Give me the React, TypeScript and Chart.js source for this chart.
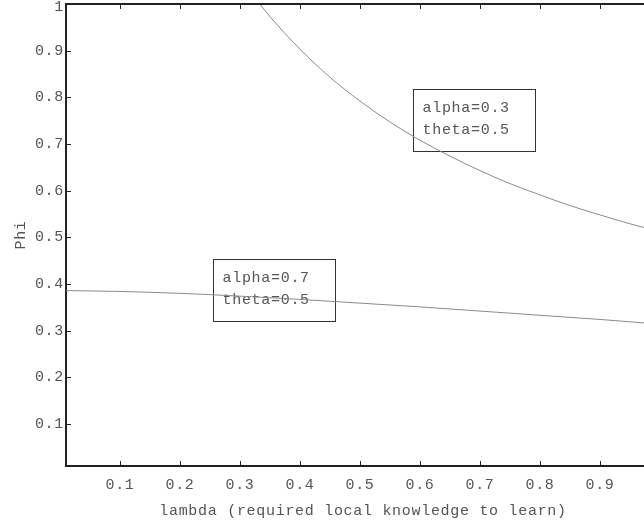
import React, { useEffect, useRef } from "react";
import { Chart, registerables } from "chart.js";

Chart.register(...registerables);

// Curve alpha=0.3, theta=0.5
const lambdaA = [0.33, 0.35, 0.4, 0.45, 0.5, 0.55, 0.6, 0.65, 0.7, 0.75, 0.8, 0.85, 0.9, 0.95, 1.0];
const phiA = [1.005, 0.973, 0.903, 0.843, 0.792, 0.747, 0.708, 0.674, 0.643, 0.615, 0.591, 0.568, 0.548, 0.529, 0.512];
// Curve alpha=0.7, theta=0.5
const lambdaB = [0.0, 0.1, 0.2, 0.3, 0.4, 0.5, 0.6, 0.7, 0.8, 0.9, 1.0];
const phiB = [0.386, 0.384, 0.38, 0.374, 0.367, 0.359, 0.351, 0.342, 0.333, 0.324, 0.314];

const xTicks = [0.1, 0.2, 0.3, 0.4, 0.5, 0.6, 0.7, 0.8, 0.9, 1];
const yTicks = [0.1, 0.2, 0.3, 0.4, 0.5, 0.6, 0.7, 0.8, 0.9, 1];

const xTitle = "lambda (required local knowledge to learn)";
const yTitle = "Phi";

// annotation boxes in data coordinates: [x0, x1, yTop, yBottom], lines
const boxA = [0.589, 0.792, 0.817, 0.686];
const boxALines = ["alpha=0.3", "theta=0.5"];
const boxB = [0.2545, 0.458, 0.453, 0.321];
const boxBLines = ["alpha=0.7", "theta=0.5"];

const FONT = "'Liberation Mono', 'Courier New', monospace";
const FSIZE = 15;
const TEXT = "#555";
const AXIS = "#222";
const LINE = "#8a8a8a";
const SPACING = "0.7px";

export default function App() {
  const ref = useRef<HTMLCanvasElement>(null);
  useEffect(() => {
    document.body.style.margin = "0";
    const canvas = ref.current!;
    const setSpacing = (chart: any) => {
      try { chart.ctx.letterSpacing = SPACING; } catch (e) {}
    };
    const plugin = {
      id: "gp",
      beforeLayout: setSpacing,
      beforeDraw: setSpacing,
      beforeDatasetsDraw(chart: any) {
        const { ctx, scales } = chart;
        const xs = scales.x, ys = scales.y;
        const drawBox = (b: number[], lines: string[]) => {
          const l = Math.round(xs.getPixelForValue(b[0])) + 0.5;
          const r = Math.round(xs.getPixelForValue(b[1])) + 0.5;
          const t = Math.round(ys.getPixelForValue(b[2])) + 0.5;
          const bt = Math.round(ys.getPixelForValue(b[3])) + 0.5;
          ctx.save();
          ctx.letterSpacing = SPACING;
          ctx.strokeStyle = "#333";
          ctx.lineWidth = 1;
          ctx.strokeRect(l, t, r - l, bt - t);
          ctx.fillStyle = TEXT;
          ctx.font = `${FSIZE}px ${FONT}`;
          ctx.textBaseline = "middle";
          ctx.textAlign = "left";
          lines.forEach((s, i) => ctx.fillText(s, l + 9, t + 19 + i * 22));
          ctx.restore();
        };
        drawBox(boxA, boxALines);
        drawBox(boxB, boxBLines);
      },
      afterDraw(chart: any) {
        const { ctx, chartArea, scales } = chart;
        const xs = scales.x, ys = scales.y;
        ctx.save();
        ctx.strokeStyle = AXIS;
        ctx.lineWidth = 2;
        ctx.beginPath();
        ctx.moveTo(chartArea.left - 1, chartArea.top);
        ctx.lineTo(chartArea.right + 1, chartArea.top);
        ctx.moveTo(chartArea.right, chartArea.top);
        ctx.lineTo(chartArea.right, chartArea.bottom);
        ctx.stroke();
        ctx.lineWidth = 1;
        ctx.beginPath();
        const tl = 5;
        xTicks.forEach((v) => {
          const px = Math.round(xs.getPixelForValue(v)) + 0.5;
          ctx.moveTo(px, chartArea.bottom);
          ctx.lineTo(px, chartArea.bottom - tl);
          ctx.moveTo(px, chartArea.top);
          ctx.lineTo(px, chartArea.top + tl);
        });
        yTicks.forEach((v) => {
          const py = Math.round(ys.getPixelForValue(v)) + 0.5;
          ctx.moveTo(chartArea.left, py);
          ctx.lineTo(chartArea.left + tl, py);
          ctx.moveTo(chartArea.right, py);
          ctx.lineTo(chartArea.right - tl, py);
        });
        ctx.stroke();
        // top tick label (drawn slightly lower so it stays inside the canvas)
        const top = yTicks[yTicks.length - 1];
        ctx.letterSpacing = SPACING;
        ctx.fillStyle = TEXT;
        ctx.font = `${FSIZE}px ${FONT}`;
        ctx.textAlign = "right";
        ctx.textBaseline = "middle";
        ctx.fillText(String(top), chartArea.left - 2, ys.getPixelForValue(top) + 3);
        ctx.restore();
      },
    };

    const font = { family: FONT, size: FSIZE };
    const topY = yTicks[yTicks.length - 1];
    const chart = new Chart(canvas, {
      type: "line",
      data: {
        datasets: [
          {
            data: lambdaA.map((x, i) => ({ x, y: phiA[i] })),
            borderColor: LINE,
            borderWidth: 1,
            pointRadius: 0,
            cubicInterpolationMode: "monotone",
          },
          {
            data: lambdaB.map((x, i) => ({ x, y: phiB[i] })),
            borderColor: LINE,
            borderWidth: 1,
            pointRadius: 0,
            cubicInterpolationMode: "monotone",
          },
        ],
      },
      options: {
        animation: false,
        responsive: false,
        devicePixelRatio: 1,
        layout: { padding: { top: 4, right: 40, left: 0, bottom: 0 } },
        plugins: { legend: { display: false }, tooltip: { enabled: false } },
        scales: {
          x: {
            type: "linear",
            min: 0.01,
            max: 1,
            afterBuildTicks: (s: any) => { s.ticks = xTicks.map((v) => ({ value: v })); },
            afterFit: (s: any) => { s.height = 56; s.paddingLeft = 0; s.paddingRight = 0; },
            grid: { display: false, drawTicks: false },
            border: { display: true, color: AXIS, width: 2 },
            ticks: {
              autoSkip: false,
              maxRotation: 0,
              padding: 10,
              color: TEXT,
              font,
              callback: (v: any) => String(v),
            },
            title: {
              display: true,
              text: xTitle,
              color: TEXT,
              font,
              padding: { top: 0, bottom: 2 },
            },
          },
          y: {
            type: "linear",
            min: 0.01,
            max: 1,
            afterBuildTicks: (s: any) => { s.ticks = yTicks.map((v) => ({ value: v })); },
            afterFit: (s: any) => { s.width = 66; s.paddingTop = 0; s.paddingBottom = 0; },
            grid: { display: false, drawTicks: false },
            border: { display: true, color: AXIS, width: 2 },
            ticks: {
              autoSkip: false,
              padding: 2,
              color: (c: any) => (c.tick && c.tick.value === topY ? "rgba(0,0,0,0)" : TEXT),
              font,
              callback: (v: any) => String(v),
            },
            title: {
              display: true,
              text: yTitle,
              color: TEXT,
              font,
              padding: { top: 12, bottom: 0 },
            },
          },
        },
      },
      plugins: [plugin],
    } as any);
    return () => chart.destroy();
  }, []);
  return (
    <div style={{ width: 644, height: 522, overflow: "hidden", position: "relative" }}>
      <canvas ref={ref} width={700} height={522} style={{ display: "block" }} />
    </div>
  );
}
